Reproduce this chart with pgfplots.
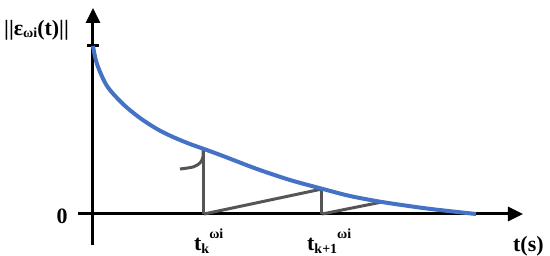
\documentclass[border=0pt]{standalone}
\usepackage{fontspec}
\setmainfont{Liberation Serif}
\usepackage{pgfplots}
\pgfplotsset{compat=1.18}
\usetikzlibrary{arrows.meta}
\definecolor{cblue}{RGB}{68,114,196}
\definecolor{cgray}{RGB}{85,85,85}
\begin{document}
\begin{tikzpicture}
\useasboundingbox (-78bp,-11bp) rectangle (472bp,245bp);
\begin{axis}[
  x=1bp, y=1bp,
  xmin=-15, xmax=430, ymin=-31, ymax=206,
  axis lines=middle,
  clip=false,
  axis line style={line width=3bp, -{Triangle[length=15bp,width=14bp]}},
  xtick=\empty,
  ytick={168}, yticklabels={},
  major tick length=12bp,
  tick style={line width=3bp, black},
  every node/.style={font=\bfseries},
]
\addplot[cgray, line width=3bp] coordinates {(111,0) (111,66)};
\addplot[cgray, line width=3bp, smooth] coordinates {(110,66) (110,57) (107,51) (100,47) (87,45)};
\addplot[cgray, line width=3bp] coordinates {(111,0) (229,25)};
\addplot[cgray, line width=3bp] coordinates {(229,0) (229,25)};
\addplot[cgray, line width=3bp] coordinates {(229,0) (289,12)};
\addplot[cblue, line width=4bp, smooth] coordinates {
(0,168) (4,150) (14,128) (30,110) (47,96) (64,85) (80,77) (97,70) (111,65) (130,58)
(164,45) (197,34) (230,25) (257,18) (289,12) (330,6) (360,2.5) (383,0)};
\node[anchor=base west, inner sep=0pt] at (axis cs:-89,179)
  {\fontsize{22}{22}\selectfont\bfseries ||ε\raisebox{-2bp}{\fontsize{14}{14}\selectfont ωi}(t)||};
\node[anchor=center, inner sep=0pt] at (axis cs:-31,-2)
  {\fontsize{22}{22}\selectfont\bfseries 0};
\node[anchor=base west, inner sep=0pt] at (axis cs:101,-36)
  {\fontsize{22}{22}\selectfont\bfseries t\raisebox{-3bp}{\fontsize{14}{14}\selectfont k}\raisebox{12bp}{\fontsize{14}{14}\selectfont ωi}};
\node[anchor=base west, inner sep=0pt] at (axis cs:214,-36)
  {\fontsize{22}{22}\selectfont\bfseries t\raisebox{-3bp}{\fontsize{14}{14}\selectfont k+1}\raisebox{12bp}{\fontsize{14}{14}\selectfont ωi}};
\node[anchor=base west, inner sep=0pt] at (axis cs:420,-37)
  {\fontsize{22}{22}\selectfont\bfseries t(s)};
\end{axis}
\end{tikzpicture}
\end{document}
